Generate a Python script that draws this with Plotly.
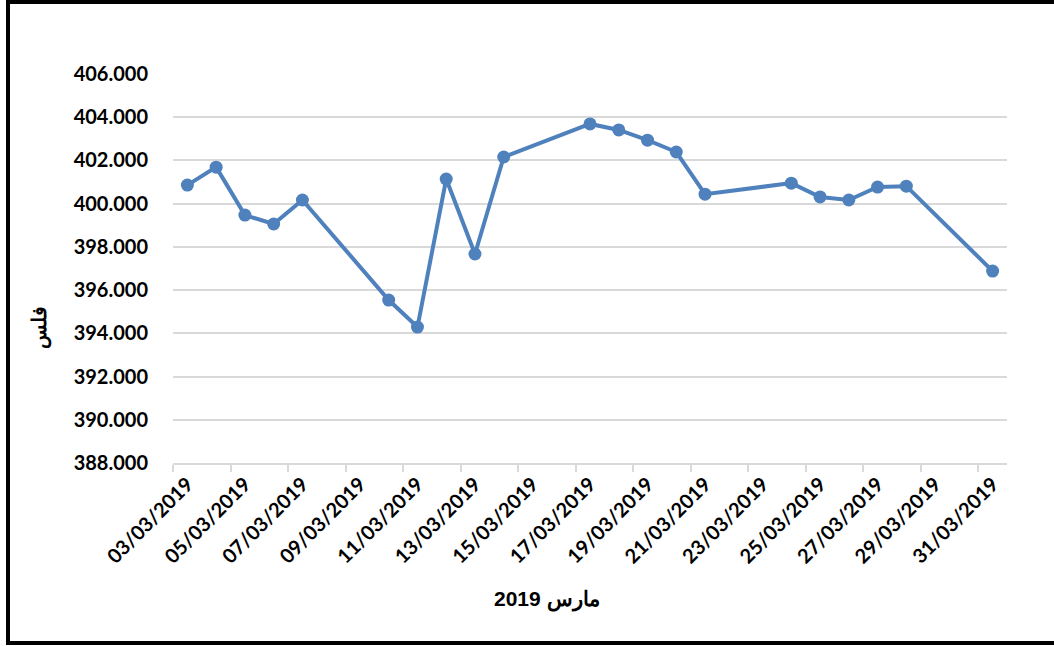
import pandas as pd
import plotly.graph_objects as go

dates = ["2019-03-03", "2019-03-04", "2019-03-05", "2019-03-06", "2019-03-07",
         "2019-03-10", "2019-03-11", "2019-03-12", "2019-03-13", "2019-03-14",
         "2019-03-17", "2019-03-18", "2019-03-19", "2019-03-20", "2019-03-21",
         "2019-03-24", "2019-03-25", "2019-03-26", "2019-03-27", "2019-03-28",
         "2019-03-31"]
values = [400.86, 401.69, 399.47, 399.06, 400.17,
          395.54, 394.29, 401.14, 397.67, 402.16,
          403.69, 403.41, 402.94, 402.39, 400.44,
          400.95, 400.31, 400.17, 400.77, 400.81,
          396.88]
tick_dates = ["2019-03-03", "2019-03-05", "2019-03-07", "2019-03-09", "2019-03-11",
              "2019-03-13", "2019-03-15", "2019-03-17", "2019-03-19", "2019-03-21",
              "2019-03-23", "2019-03-25", "2019-03-27", "2019-03-29", "2019-03-31"]
tick_labels = ["03/03/2019", "05/03/2019", "07/03/2019", "09/03/2019", "11/03/2019",
               "13/03/2019", "15/03/2019", "17/03/2019", "19/03/2019", "21/03/2019",
               "23/03/2019", "25/03/2019", "27/03/2019", "29/03/2019", "31/03/2019"]
y_ticks = [388, 390, 392, 394, 396, 398, 400, 402, 404, 406]
x_title = "مارس 2019"
y_title = "فلس"

half_day = pd.Timedelta(hours=12)
x_pts = pd.to_datetime(dates) + half_day
tick_centers = pd.to_datetime(tick_dates) + half_day
tick_bounds = pd.to_datetime(tick_dates)

color = "#4F81BD"
font_main = "Lato, 'Open Sans', sans-serif"

fig = go.Figure()
fig.add_trace(go.Scatter(
    x=x_pts, y=values, mode="lines+markers",
    line=dict(color=color, width=4),
    marker=dict(color=color, size=13),
    showlegend=False, hoverinfo="x+y",
))

W, H = 1054, 646
L, R, T, B = 173, 1007, 74, 463

fig.update_layout(
    width=W, height=H,
    margin=dict(l=L, r=W - R, t=T, b=H - B),
    paper_bgcolor="white", plot_bgcolor="white",
    font=dict(family=font_main, color="#000000"),
    xaxis=dict(
        type="date",
        range=[pd.Timestamp("2019-03-03"), pd.Timestamp("2019-04-01")],
        tickmode="array", tickvals=tick_centers, ticktext=tick_labels,
        tickangle=-45, ticks="", showgrid=False,
        tickfont=dict(size=20, family=font_main, weight="bold"),
        showline=True, linecolor="#D9D9D9", linewidth=1.5,
        minor=dict(ticks="outside", tickvals=tick_bounds, ticklen=7,
                   tickcolor="#D9D9D9", tickwidth=1.5, showgrid=False),
        zeroline=False,
    ),
    yaxis=dict(
        range=[388, 406], tickmode="array", tickvals=y_ticks,
        tickformat=".3f", ticks="", showline=False,
        showgrid=True, gridcolor="#D9D9D9", gridwidth=1.5,
        tickfont=dict(size=20, family=font_main, weight="bold"),
        ticklabelstandoff=24, zeroline=False,
    ),
)

pw, ph = R - L, B - T
def px_x(x):
    return (x - L) / pw
def px_y(y):
    return (B - y) / ph

fig.add_annotation(
    text=x_title, xref="paper", yref="paper",
    x=px_x(547), y=px_y(599), showarrow=False,
    xanchor="center", yanchor="middle",
    font=dict(size=21, family="'Liberation Sans', Arial, sans-serif", weight="bold"),
)
fig.add_annotation(
    text=y_title, xref="paper", yref="paper",
    x=px_x(40), y=px_y(328), showarrow=False, textangle=-90,
    xanchor="center", yanchor="middle",
    font=dict(size=20, family="'Liberation Sans', Arial, sans-serif", weight="bold"),
)
fig.add_shape(
    type="rect", xref="paper", yref="paper",
    x0=px_x(8), x1=px_x(1062), y0=px_y(643), y1=px_y(2),
    line=dict(color="black", width=4), fillcolor="rgba(0,0,0,0)", layer="above",
)

fig.write_html("out.html")
